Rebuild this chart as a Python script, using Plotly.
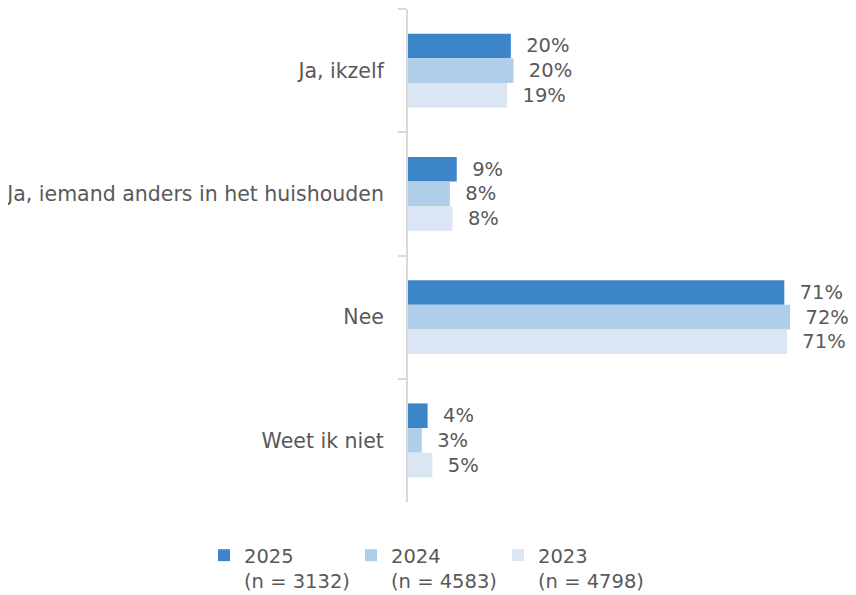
import plotly.graph_objects as go

categories = ["Ja, ikzelf", "Ja, iemand anders in het huishouden", "Nee", "Weet ik niet"]
series_names = ["2025<br>(n = 3132)", "2024<br>(n = 4583)", "2023<br>(n = 4798)"]
values_2025 = [19.4, 9.2, 71.0, 3.7]
values_2024 = [19.9, 7.9, 72.1, 2.6]
values_2023 = [18.7, 8.4, 71.5, 4.6]
labels_2025 = ["20%", "9%", "71%", "4%"]
labels_2024 = ["20%", "8%", "72%", "3%"]
labels_2023 = ["19%", "8%", "71%", "5%"]
colors = ["#3D85C9", "#B0CEEA", "#DAE6F4"]

FONT = "DejaVu Sans"
GRAY = "#595959"

fig = go.Figure()
for name, vals, labs, col in zip(series_names,
                                 [values_2025, values_2024, values_2023],
                                 [labels_2025, labels_2024, labels_2023],
                                 colors):
    fig.add_trace(go.Bar(
        y=categories, x=vals, orientation="h", name=name,
        marker=dict(color=col, line=dict(width=0)),
        text=["\u00a0\u00a0" + t for t in labs], textposition="outside",
        textfont=dict(family=FONT, size=19.5, color=GRAY),
        constraintext="none", cliponaxis=False,
        hoverinfo="skip",
    ))

# The page body has an 8px margin, so the figure is sized 848x587.
fig.update_layout(
    width=848, height=587,
    barmode="group", bargap=0.4, bargroupgap=0,
    plot_bgcolor="white", paper_bgcolor="white",
    margin=dict(l=400, r=24, t=1, b=93, autoexpand=False),
    font=dict(family=FONT, size=19.5, color=GRAY),
    showlegend=True,
    legend=dict(
        orientation="h", xref="paper", yref="paper",
        x=-0.4811, xanchor="left", y=-0.069, yanchor="top",
        font=dict(family=FONT, size=19.5, color=GRAY),
        valign="top", entrywidth=102, entrywidthmode="pixels",
        itemclick=False, itemdoubleclick=False, traceorder="normal",
    ),
    xaxis=dict(range=[0, 80], visible=False, fixedrange=True),
    yaxis=dict(
        autorange="reversed", showline=True, linecolor="#D9D9D9", linewidth=2,
        ticks="outside", tickson="boundaries", ticklen=8, tickcolor="#D9D9D9",
        tickwidth=2, ticklabelstandoff=18, showgrid=False, fixedrange=True,
        tickfont=dict(family=FONT, size=20.5, color=GRAY),
    ),
)

fig.write_html("out.html")
